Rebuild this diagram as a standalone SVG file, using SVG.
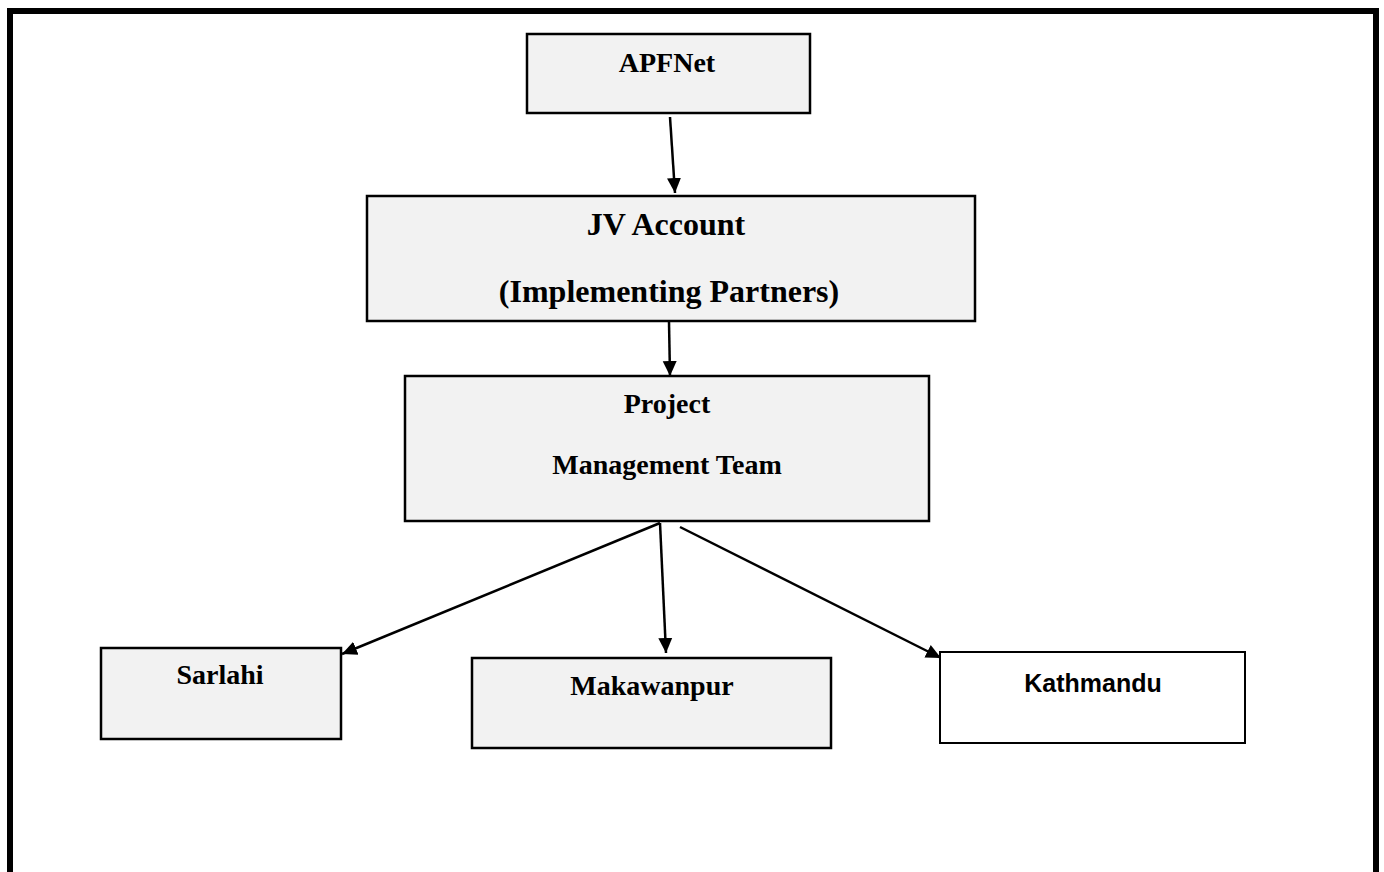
<svg xmlns="http://www.w3.org/2000/svg" width="1384" height="872" viewBox="0 0 1384 872">
<defs>
<marker id="ah" markerWidth="16" markerHeight="16" refX="15" refY="7" orient="auto" markerUnits="userSpaceOnUse" viewBox="0 0 16 14">
<path d="M0,0 L15,7 L0,14 z" fill="#000"/>
</marker>
<style>
.box{fill:#f2f2f2;stroke:#000;stroke-width:2.5}
.wbox{fill:#fff;stroke:#000;stroke-width:2}
.t{font-family:"Liberation Serif","DejaVu Serif",serif;font-weight:bold;fill:#000;text-anchor:middle}
.s{font-family:"Liberation Sans","DejaVu Sans",sans-serif;font-weight:bold;fill:#000;text-anchor:middle}
.c{stroke:#000;stroke-width:2.5;fill:none;marker-end:url(#ah)}
</style>
</defs>
<rect width="1384" height="872" fill="#fff"/>
<path d="M10,872 V11 H1376 V872" fill="none" stroke="#000" stroke-width="6"/>
<g id="connectors">
<line class="c" x1="670" y1="117" x2="675" y2="193"/>
<line class="c" x1="669" y1="322" x2="670" y2="376"/>
<line class="c" x1="660" y1="523" x2="342" y2="654"/>
<line class="c" x1="660" y1="523" x2="666" y2="653"/>
<line class="c" x1="680" y1="527" x2="941" y2="658"/>
</g>
<g id="apfnet">
<rect class="box" x="527" y="34" width="283" height="79"/>
<text class="t" x="667" y="72" font-size="28">APFNet</text>
</g>
<g id="jv">
<rect class="box" x="367" y="196" width="608" height="125"/>
<text class="t" x="666" y="235" font-size="32">JV Account</text>
<text class="t" x="669" y="302" font-size="32">(Implementing Partners)</text>
</g>
<g id="pmt">
<rect class="box" x="405" y="376" width="524" height="145"/>
<text class="t" x="667" y="413" font-size="28">Project</text>
<text class="t" x="667" y="474" font-size="28">Management Team</text>
</g>
<g id="sarlahi">
<rect class="box" x="101" y="648" width="240" height="91"/>
<text class="t" x="220" y="684" font-size="28">Sarlahi</text>
</g>
<g id="makawanpur">
<rect class="box" x="472" y="658" width="359" height="90"/>
<text class="t" x="652" y="695" font-size="28">Makawanpur</text>
</g>
<g id="kathmandu">
<rect class="wbox" x="940" y="652" width="305" height="91"/>
<text class="s" x="1093" y="692" font-size="25">Kathmandu</text>
</g>
</svg>
